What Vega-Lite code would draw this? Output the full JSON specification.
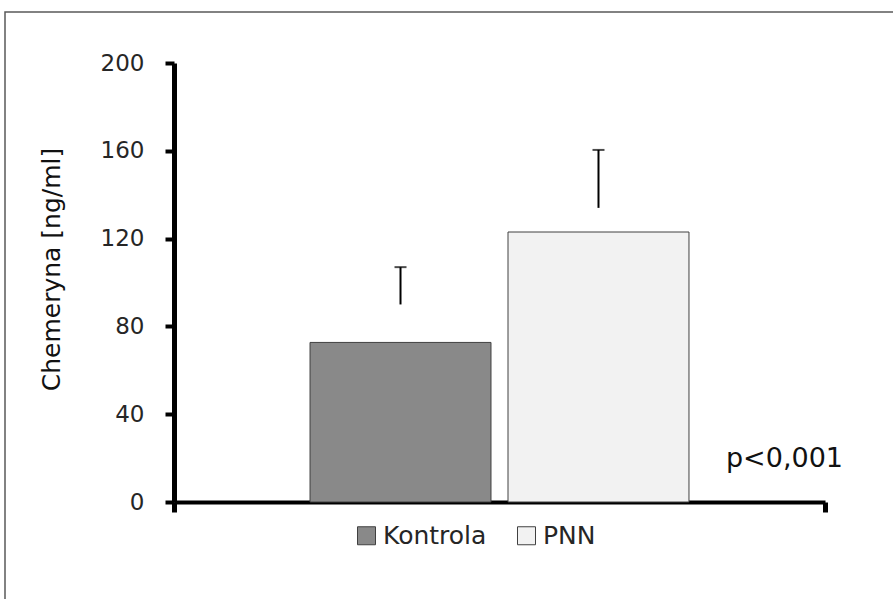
{
  "$schema": "https://vega.github.io/schema/vega-lite/v6.json",
  "autosize": {"type": "none"},
  "width": 890,
  "height": 589,
  "padding": {"left": 5, "top": 12, "right": 0, "bottom": 0},
  "background": "white",
  "config": {
    "view": {"stroke": "#595959", "strokeWidth": 1.5},
    "font": "DejaVu Sans"
  },
  "data": {
    "values": [
      {"g": "A", "series": "Kontrola", "mean": 72.7, "err_lo": 90, "err_hi": 107},
      {"g": "A", "series": "PNN", "mean": 123, "err_lo": 134, "err_hi": 160.4}
    ]
  },
  "layer": [
    {
      "mark": {"type": "bar", "stroke": "#404040", "strokeWidth": 1},
      "encoding": {
        "x": {
          "field": "g",
          "type": "nominal",
          "scale": {"range": [169, 820], "paddingInner": 0, "paddingOuter": 0},
          "axis": {
            "offset": -99,
            "labels": false,
            "title": null,
            "domainColor": "black",
            "domainWidth": 4,
            "ticks": true,
            "tickBand": "extent",
            "tickColor": "black",
            "tickWidth": 5,
            "tickSize": 10,
            "grid": false
          }
        },
        "xOffset": {
          "field": "series",
          "type": "nominal",
          "scale": {"paddingInner": 0.0859, "paddingOuter": 0.687}
        },
        "y": {
          "field": "mean",
          "type": "quantitative",
          "scale": {"domain": [0, 200], "range": [490, 51], "nice": false, "zero": true},
          "axis": {
            "values": [0, 40, 80, 120, 160, 200],
            "offset": -169,
            "domainColor": "black",
            "domainWidth": 5,
            "tickColor": "black",
            "tickWidth": 4,
            "tickSize": 9,
            "labelFontSize": 23,
            "labelColor": "#262626",
            "labelPadding": 21,
            "grid": false,
            "title": "Chemeryna [ng/ml]",
            "titleFontSize": 25,
            "titleFontWeight": "normal",
            "titleColor": "#111111",
            "titlePadding": 36,
            "titleY": 257
          }
        },
        "color": {
          "field": "series",
          "type": "nominal",
          "scale": {"domain": ["Kontrola", "PNN"], "range": ["#898989", "#f2f2f2"]},
          "legend": {
            "orient": "none",
            "legendX": 349,
            "legendY": 511,
            "direction": "horizontal",
            "title": null,
            "symbolType": "square",
            "symbolSize": 324,
            "symbolStrokeColor": "#404040",
            "symbolStrokeWidth": 1,
            "symbolOpacity": 1,
            "labelFontSize": 25,
            "labelColor": "#262626",
            "labelOffset": 4,
            "columnPadding": 27
          }
        }
      }
    },
    {
      "mark": {"type": "rule", "color": "black", "strokeWidth": 2},
      "encoding": {
        "x": {"field": "g", "type": "nominal"},
        "xOffset": {"field": "series", "type": "nominal"},
        "y": {"field": "err_lo", "type": "quantitative"},
        "y2": {"field": "err_hi"}
      }
    },
    {
      "mark": {"type": "tick", "color": "black", "thickness": 2, "size": 12, "orient": "horizontal"},
      "encoding": {
        "x": {"field": "g", "type": "nominal"},
        "xOffset": {"field": "series", "type": "nominal"},
        "y": {"field": "err_hi", "type": "quantitative"}
      }
    },
    {
      "data": {"values": [{"label": "p<0,001", "g": "A", "y": 16}]},
      "mark": {"type": "text", "align": "right", "baseline": "alphabetic", "dx": 18, "fontSize": 27, "color": "#111111"},
      "encoding": {
        "x": {"field": "g", "type": "nominal", "bandPosition": 1},
        "y": {"field": "y", "type": "quantitative"},
        "text": {"field": "label"}
      }
    }
  ]
}
